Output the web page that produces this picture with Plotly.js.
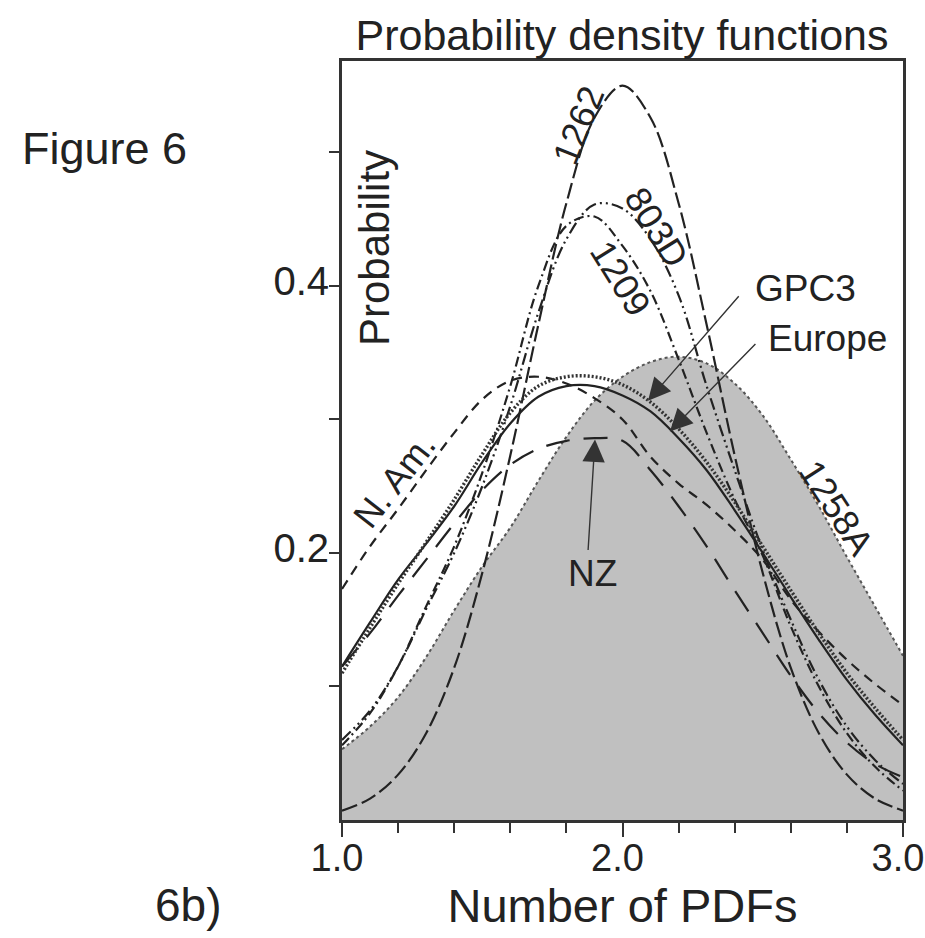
<!DOCTYPE html>
<html>
<head>
<meta charset="utf-8">
<script src="https://cdn.plot.ly/plotly-3.0.1.min.js"></script>
<style>
  html, body { margin: 0; padding: 0; background: #ffffff; }
  #chart { width: 925px; height: 938px; }
</style>
</head>
<body>
<div id="chart"></div>
<script>
// ---- data ----
const xValues = [1.0, 1.1, 1.2, 1.3, 1.4, 1.5, 1.6, 1.7, 1.8, 1.9, 2.0,
                 2.1, 2.2, 2.3, 2.4, 2.5, 2.6, 2.7, 2.8, 2.9, 3.0];

const pdf1258A = [0.053, 0.070, 0.092, 0.122, 0.157, 0.190, 0.219, 0.254, 0.287, 0.314, 0.332,
                  0.343, 0.347, 0.342, 0.327, 0.303, 0.270, 0.235, 0.197, 0.160, 0.123];
const pdf1262  = [0.007, 0.016, 0.034, 0.065, 0.114, 0.185, 0.273, 0.371, 0.462, 0.526, 0.550,
                  0.526, 0.462, 0.371, 0.273, 0.185, 0.114, 0.065, 0.034, 0.016, 0.007];
const pdf803D  = [0.060, 0.082, 0.115, 0.158, 0.200, 0.250, 0.310, 0.380, 0.435, 0.461, 0.458,
                  0.435, 0.393, 0.325, 0.262, 0.202, 0.150, 0.105, 0.070, 0.045, 0.027];
const pdf1209  = [0.056, 0.080, 0.115, 0.160, 0.205, 0.260, 0.325, 0.400, 0.445, 0.452, 0.430,
                  0.396, 0.345, 0.290, 0.240, 0.198, 0.145, 0.100, 0.065, 0.040, 0.022];
const pdfGPC3  = [0.115, 0.148, 0.180, 0.207, 0.235, 0.268, 0.297, 0.317, 0.325, 0.325, 0.318,
                  0.306, 0.286, 0.262, 0.232, 0.200, 0.167, 0.135, 0.105, 0.079, 0.056];
const pdfEurope = [0.110, 0.144, 0.177, 0.208, 0.240, 0.274, 0.305, 0.325, 0.332, 0.332, 0.326,
                   0.313, 0.293, 0.268, 0.238, 0.205, 0.172, 0.140, 0.110, 0.084, 0.060];
const pdfNAm   = [0.173, 0.205, 0.233, 0.262, 0.290, 0.315, 0.329, 0.332, 0.327, 0.316, 0.300,
                  0.272, 0.252, 0.236, 0.217, 0.195, 0.165, 0.141, 0.120, 0.102, 0.086];
const pdfNZ    = [0.115, 0.140, 0.168, 0.195, 0.222, 0.247, 0.266, 0.278, 0.284, 0.286, 0.284,
                  0.262, 0.235, 0.205, 0.172, 0.140, 0.108, 0.080, 0.058, 0.042, 0.032];

const xTickVals = [1.0, 2.0, 3.0];
const xTickText = ['1.0', '2.0', '3.0'];
const xMinorTickVals = [1.2, 1.4, 1.6, 1.8, 2.2, 2.4, 2.6, 2.8];
const yTickVals = [0.1, 0.2, 0.3, 0.4, 0.5];
const yTickText = ['', '0.2', '', '0.4', ''];

// ---- styling ----
const FONT = 'Liberation Sans, Arial, Helvetica, sans-serif';
const INK = '#222222';
const AXIS = '#333333';

function curve(y, dash, width, color) {
  return {
    x: xValues, y: y, type: 'scatter', mode: 'lines',
    line: { color: color || INK, width: width, dash: dash, shape: 'spline', smoothing: 1 },
    hoverinfo: 'skip'
  };
}

const traces = [
  Object.assign(curve(pdf1258A, 'dot', 2, '#555555'),
    { fill: 'tozeroy', fillcolor: '#c0c0c0' }),
  curve(pdf1262, '16px,5px', 2.2),
  curve(pdf803D, '12px,4px,2px,4px,2px,4px', 2.2),
  curve(pdf1209, '10px,4px,2px,4px', 2.2),
  curve(pdfNAm, '10px,7px', 2.2),
  curve(pdfNZ, '24px,14px', 2.2),
  curve(pdfGPC3, 'solid', 2.2),
  curve(pdfEurope, '2px,2px', 3.4, '#333333')
];

function label(text, px, py, size, angle) {
  return {
    text: text, xref: 'paper', yref: 'paper',
    x: (px - 342) / 561, y: (820 - py) / 759,
    xanchor: 'center', yanchor: 'middle', showarrow: false,
    textangle: angle || 0,
    font: { family: FONT, size: size, color: INK }
  };
}

function arrow(xh, yh, ax, ay) {
  return {
    text: '', x: xh, y: yh, xref: 'x', yref: 'y',
    showarrow: true, ax: ax, ay: ay,
    arrowhead: 2, arrowsize: 3.2, arrowwidth: 1.4, arrowcolor: '#333333'
  };
}

const annotations = [
  Object.assign(label('Figure 6', 20, 148, 45), { xanchor: 'left' }),
  label('6b)', 188, 905, 46),
  label('Probability', 374, 248, 42, -90),
  label('1262', 578, 125, 36, -68),
  label('803D', 657, 227, 36, 58),
  label('1209', 621, 278, 36, 58),
  label('GPC3', 805, 288, 37),
  label('Europe', 827, 338, 37),
  label('N. Am.', 394, 480, 36, -52),
  label('NZ', 592, 573, 37),
  label('1258A', 836, 508, 36, 57),
  arrow(2.091, 0.314, 92, -106),
  arrow(2.169, 0.291, 87, -89),
  arrow(1.902, 0.285, -7, 112)
];

const layout = {
  width: 925, height: 938, autosize: false,
  margin: { l: 342, r: 22, t: 61, b: 118, pad: 0 },
  paper_bgcolor: '#ffffff', plot_bgcolor: '#ffffff',
  showlegend: false, hovermode: false,
  title: {
    text: 'Probability density functions',
    x: 622 / 925, xanchor: 'center', xref: 'container',
    y: 1 - 35 / 938, yanchor: 'middle', yref: 'container',
    font: { family: FONT, size: 43, color: INK }
  },
  xaxis: {
    range: [1, 3], showgrid: false, zeroline: false,
    showline: true, mirror: true, linecolor: AXIS, linewidth: 3,
    tickmode: 'array', tickvals: xTickVals, ticktext: xTickText,
    ticks: 'outside', ticklen: 14, tickwidth: 2, tickcolor: AXIS,
    ticklabeloverflow: 'allow', ticklabelstandoff: -12, ticklabelshift: -5,
    minor: { tickmode: 'array', tickvals: xMinorTickVals, ticks: 'outside',
             ticklen: 10, tickwidth: 2, tickcolor: AXIS, showgrid: false },
    tickfont: { family: FONT, size: 38, color: INK },
    title: { text: 'Number of PDFs', standoff: 12,
             font: { family: FONT, size: 47, color: INK } },
    automargin: false
  },
  yaxis: {
    range: [0, 0.5685], showgrid: false, zeroline: false,
    showline: true, mirror: true, linecolor: AXIS, linewidth: 3,
    tickmode: 'array', tickvals: yTickVals, ticktext: yTickText,
    ticks: 'outside', ticklen: 10, tickwidth: 2, tickcolor: AXIS,
    ticklabelstandoff: -8, ticklabelshift: -5,
    tickfont: { family: FONT, size: 40, color: INK },
    automargin: false
  },
  annotations: annotations
};

Plotly.newPlot('chart', traces, layout, { staticPlot: true, displayModeBar: false });
</script>
</body>
</html>
